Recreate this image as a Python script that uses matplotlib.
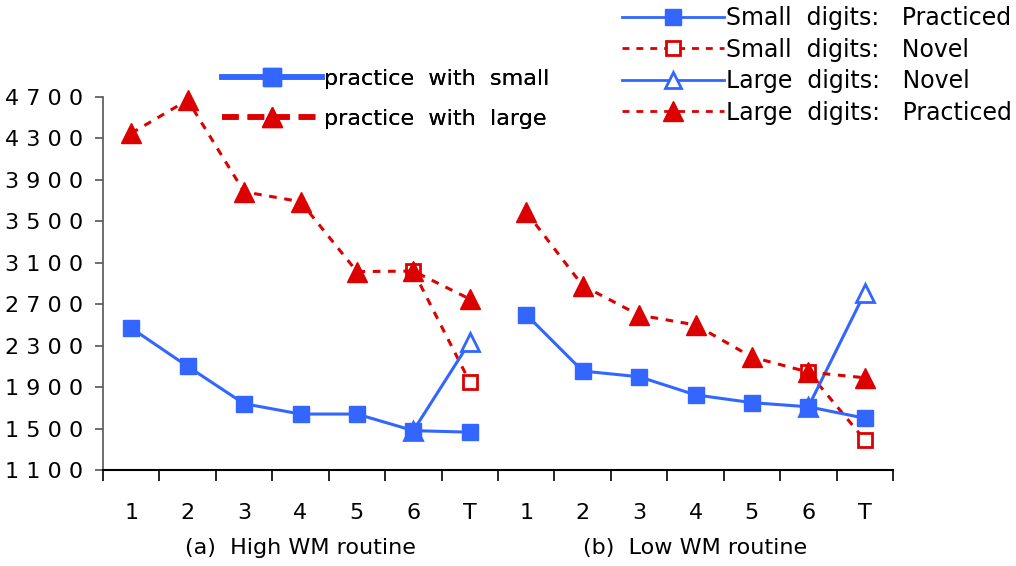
import numpy as np
import matplotlib
matplotlib.use("Agg")
import matplotlib.pyplot as plt
from matplotlib.lines import Line2D

BLUE = "#3366ff"
RED = "#dd0000"

# categories along the x axis: two routines, sessions 1-6 plus transfer T
sessions = ["1", "2", "3", "4", "5", "6", "T"]
groups = ["(a)  High WM routine", "(b)  Low WM routine"]

# (a) High WM routine
a_small_practiced = [2470, 2100, 1740, 1640, 1640, 1480, 1465]
a_large_practiced = [4350, 4670, 3785, 3690, 3015, 3020, 2750]
a_small_novel = [3020, 1950]      # session 6 -> T
a_large_novel = [1480, 2335]      # session 6 -> T

# (b) Low WM routine
b_small_practiced = [2600, 2055, 2000, 1825, 1750, 1710, 1600]
b_large_practiced = [3590, 2880, 2595, 2500, 2190, 2045, 1990]
b_small_novel = [2045, 1390]
b_large_novel = [1710, 2810]

yticks = [1100, 1500, 1900, 2300, 2700, 3100, 3500, 3900, 4300, 4700]

fig = plt.figure(figsize=(10.16, 5.66), dpi=100)
ax = fig.add_axes([103 / 1016, 1 - 470 / 566, 790 / 1016, 373 / 566])

n = len(sessions)
for g in range(2):
    x = np.arange(n) + g * n
    sp = [a_small_practiced, b_small_practiced][g]
    lp = [a_large_practiced, b_large_practiced][g]
    sn = [a_small_novel, b_small_novel][g]
    ln = [a_large_novel, b_large_novel][g]
    ax.plot(x[5:], sn, color=RED, lw=2.2, ls=(0, (2.5, 2.5)), marker="s",
            ms=10, mfc="white", mec=RED, mew=2, clip_on=False, zorder=3)
    ax.plot(x[5:], ln, color=BLUE, lw=2.2, marker="^", ms=13,
            mfc="white", mec=BLUE, mew=2, clip_on=False, zorder=3)
    ax.plot(x, lp, color=RED, lw=2.2, ls=(0, (2.5, 2.5)), marker="^",
            ms=15, mfc=RED, mec=RED, clip_on=False, zorder=4)
    ax.plot(x, sp, color=BLUE, lw=2.2, marker="s", ms=11,
            mfc=BLUE, mec=BLUE, clip_on=False, zorder=4)

ax.set_xlim(-0.5, 2 * n - 0.5)
ax.set_ylim(1100, 4700)
ax.set_yticks(yticks)
ax.set_yticklabels([" ".join(str(v)) for v in yticks], fontsize=16)
ax.tick_params(axis="y", direction="out", length=6, width=1.2, color="#555555", pad=8)

ax.set_xticks(np.arange(2 * n))
ax.set_xticklabels(sessions * 2, fontsize=16)
ax.set_xticks(np.arange(2 * n + 1) - 0.5, minor=True)
ax.tick_params(axis="x", which="major", length=0, pad=24)
ax.tick_params(axis="x", which="minor", direction="out", length=8, width=1.2)

for s in ["top", "right"]:
    ax.spines[s].set_visible(False)
ax.spines["bottom"].set_linewidth(1.5)
ax.spines["left"].set_linewidth(1.2)
ax.spines["left"].set_color("#555555")

for g, label in enumerate(groups):
    ax.text(g * n + 3, -0.21, label, transform=ax.get_xaxis_transform(),
            ha="center", va="center", fontsize=16)

# legend inside the plot
h1 = [Line2D([], [], color=BLUE, lw=4, marker="s", ms=13, mfc=BLUE),
      Line2D([], [], color=RED, lw=4, ls=(0, (3, 1.6)), marker="^", ms=15, mfc=RED)]
leg1 = ax.legend(h1, ["practice  with  small", "practice  with  large"],
                 loc="upper left", bbox_to_anchor=(0.125, 1.13), frameon=False,
                 fontsize=16, handlelength=4.5, handletextpad=0.1, labelspacing=0.9)
ax.add_artist(leg1)

# legend at the top right
h2 = [Line2D([], [], color=BLUE, lw=2, marker="s", ms=11, mfc=BLUE),
      Line2D([], [], color=RED, lw=2, ls=(0, (2.5, 2.5)), marker="s", ms=10, mfc="white", mew=2),
      Line2D([], [], color=BLUE, lw=2, marker="^", ms=12, mfc="white", mew=2),
      Line2D([], [], color=RED, lw=2, ls=(0, (2.5, 2.5)), marker="^", ms=14, mfc=RED)]
fig.legend(h2, ["Small  digits:   Practiced", "Small  digits:   Novel",
                "Large  digits:   Novel", "Large  digits:   Practiced"],
           loc="upper right", bbox_to_anchor=(1.017, 1.027), frameon=False,
           fontsize=17, handlelength=4.3, handletextpad=0.1, labelspacing=0.32)

fig.savefig("out.png", dpi=100)
